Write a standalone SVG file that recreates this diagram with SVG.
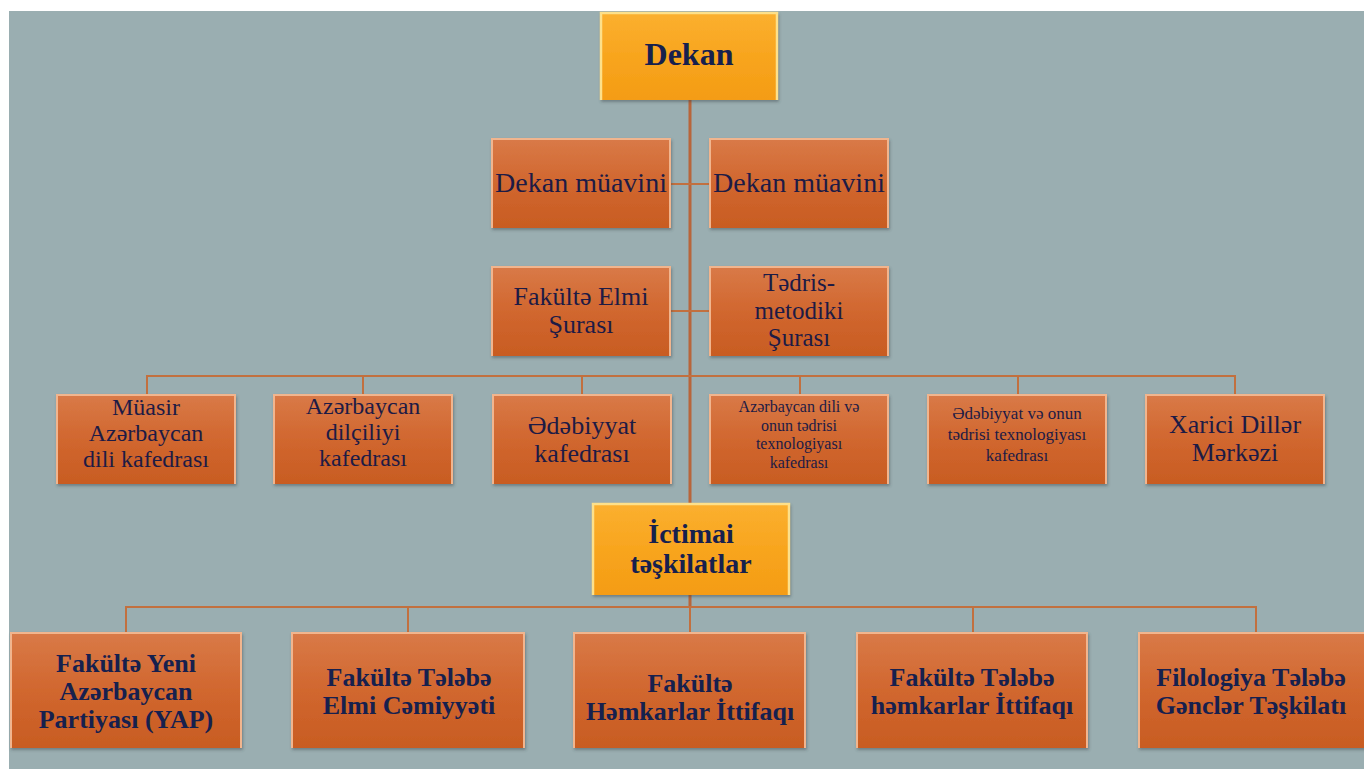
<svg xmlns="http://www.w3.org/2000/svg" width="1364" height="769" viewBox="0 0 1364 769">
<defs>
<linearGradient id="og" x1="0" y1="0" x2="0" y2="1">
<stop offset="0" stop-color="#d97a48"/>
<stop offset="0.5" stop-color="#d1672f"/>
<stop offset="1" stop-color="#c85c22"/>
</linearGradient>
<linearGradient id="gg" x1="0" y1="0" x2="0" y2="1">
<stop offset="0" stop-color="#fbb030"/>
<stop offset="0.5" stop-color="#f8a51e"/>
<stop offset="1" stop-color="#f49c14"/>
</linearGradient>
<filter id="sh" x="-5%" y="-5%" width="115%" height="120%">
<feDropShadow dx="1" dy="2" stdDeviation="1.5" flood-color="#3a4548" flood-opacity="0.45"/>
</filter>
</defs>
<style>
.ob{fill:url(#og);filter:url(#sh)}
.gb{fill:url(#gg);filter:url(#sh)}
.hl{fill:none;stroke:#f1b58e;stroke-width:2}
.hg{fill:none;stroke:#fde08a;stroke-width:2.5}
.t{font-family:"Liberation Serif","DejaVu Serif","Times New Roman",serif;fill:#1d1b45;text-anchor:middle}
.b{font-weight:bold;fill:#16204e}
.ln{stroke:#c2703f;stroke-width:2;fill:none}
.lm{stroke:#b8653a;stroke-width:3;fill:none}
</style>
<rect x="0" y="0" width="1364" height="769" fill="#ffffff"/>
<rect x="9" y="11" width="1355" height="758" fill="#9aaeb1"/>

<g id="connectors">
<line class="lm" x1="690" y1="100" x2="690" y2="607"/>
<line class="ln" x1="671" y1="184" x2="709" y2="184"/>
<line class="ln" x1="671" y1="311" x2="709" y2="311"/>
<path class="ln" d="M147,394 V376 H1235 V394 M363,376 V394 M582,376 V394 M800,376 V394 M1018,376 V394"/>
<path class="ln" d="M126,632 V607 H1256 V632 M408,607 V632 M690,607 V632 M973,607 V632"/>
</g>

<g id="dekan">
<rect class="gb" x="600" y="12" width="178" height="88"/>
<path class="hg" d="M601,100 V13 H777 V100"/>
<text class="t b" x="689" y="65" font-size="32">Dekan</text>
</g>

<g id="dekan-muavini-1">
<rect class="ob" x="491" y="138" width="180" height="90"/>
<path class="hl" d="M492,228 V139 H670 V228"/>
<text class="t" x="581" y="192" font-size="28">Dekan müavini</text>
</g>
<g id="dekan-muavini-2">
<rect class="ob" x="709" y="138" width="180" height="90"/>
<path class="hl" d="M710,228 V139 H888 V228"/>
<text class="t" x="799" y="192" font-size="28">Dekan müavini</text>
</g>

<g id="fakulte-elmi-surasi">
<rect class="ob" x="491" y="266" width="180" height="90"/>
<path class="hl" d="M492,356 V267 H670 V356"/>
<text class="t" x="581" y="305" font-size="26">Fakültə Elmi</text>
<text class="t" x="581" y="333" font-size="26">Şurası</text>
</g>
<g id="tedris-metodiki-surasi">
<rect class="ob" x="709" y="266" width="180" height="90"/>
<path class="hl" d="M710,356 V267 H888 V356"/>
<text class="t" x="799" y="291" font-size="25">Tədris-</text>
<text class="t" x="799" y="318.5" font-size="25">metodiki</text>
<text class="t" x="799" y="346" font-size="25">Şurası</text>
</g>

<g id="k1">
<rect class="ob" x="56" y="394" width="180" height="90"/>
<path class="hl" d="M57,484 V395 H235 V484"/>
<text class="t" x="146" y="415" font-size="24">Müasir</text>
<text class="t" x="146" y="441" font-size="24">Azərbaycan</text>
<text class="t" x="146" y="467" font-size="24">dili kafedrası</text>
</g>
<g id="k2">
<rect class="ob" x="273" y="394" width="180" height="90"/>
<path class="hl" d="M274,484 V395 H452 V484"/>
<text class="t" x="363" y="414" font-size="24">Azərbaycan</text>
<text class="t" x="363" y="440" font-size="24">dilçiliyi</text>
<text class="t" x="363" y="466" font-size="24">kafedrası</text>
</g>
<g id="k3">
<rect class="ob" x="492" y="394" width="180" height="90"/>
<path class="hl" d="M493,484 V395 H671 V484"/>
<text class="t" x="582" y="434" font-size="26">Ədəbiyyat</text>
<text class="t" x="582" y="462" font-size="26">kafedrası</text>
</g>
<g id="k4">
<rect class="ob" x="709" y="394" width="180" height="90"/>
<path class="hl" d="M710,484 V395 H888 V484"/>
<text class="t" x="799" y="412" font-size="16">Azərbaycan dili və</text>
<text class="t" x="799" y="430.5" font-size="16">onun tədrisi</text>
<text class="t" x="799" y="449" font-size="16">texnologiyası</text>
<text class="t" x="799" y="467.5" font-size="16">kafedrası</text>
</g>
<g id="k5">
<rect class="ob" x="927" y="394" width="180" height="90"/>
<path class="hl" d="M928,484 V395 H1106 V484"/>
<text class="t" x="1017" y="419" font-size="17">Ədəbiyyat və onun</text>
<text class="t" x="1017" y="440" font-size="17">tədrisi texnologiyası</text>
<text class="t" x="1017" y="461" font-size="17">kafedrası</text>
</g>
<g id="k6">
<rect class="ob" x="1145" y="394" width="180" height="90"/>
<path class="hl" d="M1146,484 V395 H1324 V484"/>
<text class="t" x="1235" y="433" font-size="26">Xarici Dillər</text>
<text class="t" x="1235" y="461" font-size="26">Mərkəzi</text>
</g>

<g id="ictimai">
<rect class="gb" x="592" y="503" width="198" height="92"/>
<path class="hg" d="M593,595 V504 H789 V595"/>
<text class="t b" x="691" y="543" font-size="28">İctimai</text>
<text class="t b" x="691" y="573" font-size="28">təşkilatlar</text>
</g>

<g id="t1">
<rect class="ob" x="10" y="632" width="232" height="116"/>
<path class="hl" d="M11,748 V633 H241 V748"/>
<text class="t b" x="126" y="672" font-size="26">Fakültə Yeni</text>
<text class="t b" x="126" y="700" font-size="26">Azərbaycan</text>
<text class="t b" x="126" y="728" font-size="26">Partiyası (YAP)</text>
</g>
<g id="t2">
<rect class="ob" x="291" y="632" width="234" height="116"/>
<path class="hl" d="M292,748 V633 H524 V748"/>
<text class="t b" x="409" y="686" font-size="26">Fakültə Tələbə</text>
<text class="t b" x="409" y="714" font-size="26">Elmi Cəmiyyəti</text>
</g>
<g id="t3">
<rect class="ob" x="573" y="632" width="233" height="116"/>
<path class="hl" d="M574,748 V633 H805 V748"/>
<text class="t b" x="690" y="692" font-size="26">Fakültə</text>
<text class="t b" x="690" y="720" font-size="26">Həmkarlar İttifaqı</text>
</g>
<g id="t4">
<rect class="ob" x="856" y="632" width="232" height="116"/>
<path class="hl" d="M857,748 V633 H1087 V748"/>
<text class="t b" x="972" y="686" font-size="26">Fakültə Tələbə</text>
<text class="t b" x="972" y="714" font-size="26">həmkarlar İttifaqı</text>
</g>
<g id="t5">
<rect class="ob" x="1138" y="632" width="232" height="116"/>
<path class="hl" d="M1139,748 V633 H1369"/>
<text class="t b" x="1251" y="686" font-size="26">Filologiya Tələbə</text>
<text class="t b" x="1251" y="714" font-size="26">Gənclər Təşkilatı</text>
</g>
</svg>
